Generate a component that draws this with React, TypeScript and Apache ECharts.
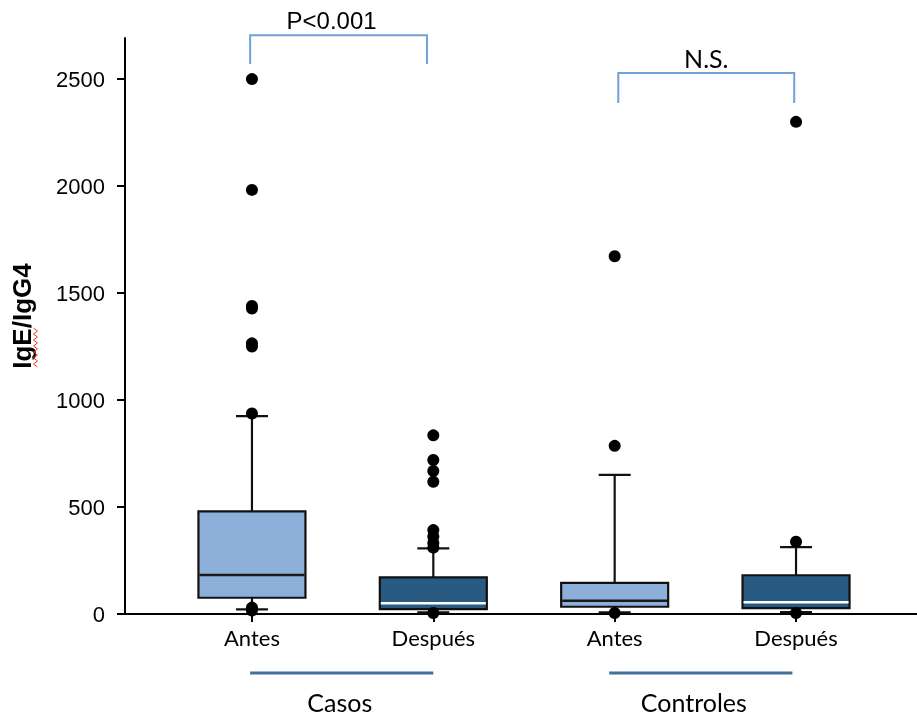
import React, { useEffect, useRef } from "react";
import * as echarts from "echarts";

// ---- data ----
const categories = ["Antes", "Después", "Antes", "Después"];
const groupNames = ["Casos", "Controles"];
const groupFrom = [0.99, 2.97];
const groupTo = [2.0, 3.98];

const boxMin = [22, 8, 8, 9];
const boxQ1 = [76, 23, 34, 27];
const boxMedian = [182, 50, 62, 55];
const boxQ3 = [480, 171, 145, 181];
const boxMax = [925, 307, 650, 313];

const outlierPoints: [number, number][] = [
  [1, 2500], [1, 1982], [1, 1440], [1, 1428], [1, 1265], [1, 1250], [1, 937], [1, 30], [1, 16],
  [2, 835], [2, 720], [2, 668], [2, 618], [2, 392], [2, 362], [2, 332], [2, 310], [2, 5],
  [3, 1672], [3, 786], [3, 5],
  [4, 2300], [4, 338], [4, 5],
];

const yTicks = [0, 500, 1000, 1500, 2000, 2500];

const bracketFrom = [0.99, 3.02];
const bracketTo = [1.965, 3.99];
const bracketTop = [2705, 2528];
const bracketLeg = [2570, 2388];
const bracketLabels = ["P<0.001", "N.S."];

// ---- styles ----
const boxFill = ["#8DB0DB", "#285A82", "#8DB0DB", "#285A82"];
const medianColor = ["#1a1a1a", "#ffffff", "#1a1a1a", "#ffffff"];
const bracketFont = ['24px "Liberation Sans", Arial, sans-serif', '25px Lato, sans-serif'];
const bracketDx = [-7, 0];
const groupDx = [-2, -7];

export default function App() {
  const ref = useRef<HTMLDivElement>(null);

  useEffect(() => {
    if (!ref.current) return;
    const chart = echarts.init(ref.current, undefined, { renderer: "svg" });

    const boxData = categories.map((_, i) => [i + 1, boxMin[i], boxQ1[i], boxMedian[i], boxQ3[i], boxMax[i]]);
    const bracketData = bracketFrom.map((f, i) => [f, bracketTo[i], bracketTop[i], bracketLeg[i]]);
    const groupData = groupFrom.map((f, i) => [f, groupTo[i]]);

    const squiggle: number[][] = [];
    for (let k = 0; k <= 13; k++) squiggle.push([k % 2 === 0 ? 33.5 : 37.5, 328 + k * 3]);

    const option: any = {
      animation: false,
      grid: { left: 125, right: 0, top: 38, bottom: 102, containLabel: false },
      xAxis: {
        type: "value",
        min: 0.3,
        max: 4.667,
        axisLine: { show: true, lineStyle: { color: "#000", width: 2 } },
        axisTick: { show: true, customValues: [1, 2, 3, 4], length: 8, lineStyle: { color: "#000", width: 2 } },
        axisLabel: {
          customValues: [1, 2, 3, 4],
          formatter: (v: number) => categories[Math.round(v) - 1] ?? "",
          color: "#000",
          fontFamily: "Lato, sans-serif",
          fontSize: 22,
          margin: 12,
        },
        splitLine: { show: false },
      },
      yAxis: {
        type: "value",
        min: 0,
        max: 2692,
        axisLine: { show: true, lineStyle: { color: "#000", width: 2 } },
        axisTick: { show: true, customValues: yTicks, length: 8, lineStyle: { color: "#000", width: 2 } },
        axisLabel: {
          customValues: yTicks,
          formatter: (v: number) => String(v),
          color: "#000",
          fontFamily: '"Liberation Sans", Arial, sans-serif',
          fontSize: 22,
          margin: 20,
        },
        splitLine: { show: false },
      },
      graphic: [
        {
          type: "text",
          x: 22,
          y: 316,
          rotation: Math.PI / 2,
          style: {
            text: "IgE/IgG4",
            fill: "#000",
            font: 'bold 26px "Liberation Sans", Arial, sans-serif',
            align: "center",
            verticalAlign: "middle",
          },
        },
        {
          type: "polyline",
          shape: { points: squiggle },
          style: { stroke: "#e8392f", lineWidth: 1, fill: "none" },
        },
      ],
      series: [
        {
          type: "custom",
          name: "boxes",
          coordinateSystem: "cartesian2d",
          data: boxData,
          z: 2,
          renderItem: (params: any, api: any) => {
            const i = params.dataIndex;
            const x = api.value(0);
            const pMin = api.coord([x, api.value(1)]);
            const pQ1 = api.coord([x, api.value(2)]);
            const pMed = api.coord([x, api.value(3)]);
            const pQ3 = api.coord([x, api.value(4)]);
            const pMax = api.coord([x, api.value(5)]);
            const cx = pMin[0];
            const half = 53.5;
            const cap = 16;
            const ls = { stroke: "#111", lineWidth: 2.2 };
            return {
              type: "group",
              children: [
                { type: "line", shape: { x1: cx, y1: pMax[1], x2: cx, y2: pQ3[1] }, style: ls },
                { type: "line", shape: { x1: cx, y1: pQ1[1], x2: cx, y2: pMin[1] }, style: ls },
                { type: "line", shape: { x1: cx - cap, y1: pMax[1], x2: cx + cap, y2: pMax[1] }, style: ls },
                { type: "line", shape: { x1: cx - cap, y1: pMin[1], x2: cx + cap, y2: pMin[1] }, style: ls },
                {
                  type: "rect",
                  shape: { x: cx - half, y: pQ3[1], width: half * 2, height: pQ1[1] - pQ3[1] },
                  style: { fill: boxFill[i], stroke: "#111", lineWidth: 2.2 },
                },
                {
                  type: "line",
                  shape: { x1: cx - half + 1, y1: pMed[1], x2: cx + half - 1, y2: pMed[1] },
                  style: { stroke: medianColor[i], lineWidth: 2.4 },
                },
              ],
            };
          },
        },
        {
          type: "scatter",
          name: "outliers",
          data: outlierPoints,
          symbol: "circle",
          symbolSize: 12,
          itemStyle: { color: "#000", opacity: 1 },
          z: 3,
        },
        {
          type: "custom",
          name: "brackets",
          coordinateSystem: "cartesian2d",
          data: bracketData,
          clip: false,
          z: 4,
          renderItem: (params: any, api: any) => {
            const i = params.dataIndex;
            const a = api.coord([api.value(0), api.value(2)]);
            const b = api.coord([api.value(1), api.value(2)]);
            const legY = api.coord([api.value(0), api.value(3)])[1];
            return {
              type: "group",
              children: [
                {
                  type: "polyline",
                  shape: { points: [[a[0], legY], [a[0], a[1]], [b[0], b[1]], [b[0], legY]] },
                  style: { stroke: "#6FA3D7", lineWidth: 2, fill: "none" },
                },
                {
                  type: "text",
                  x: (a[0] + b[0]) / 2 + bracketDx[i],
                  y: a[1] - 15,
                  style: {
                    text: bracketLabels[i],
                    fill: "#000",
                    font: bracketFont[i],
                    align: "center",
                    verticalAlign: "middle",
                  },
                },
              ],
            };
          },
        },
        {
          type: "custom",
          name: "groups",
          coordinateSystem: "cartesian2d",
          data: groupData,
          clip: false,
          z: 4,
          renderItem: (params: any, api: any) => {
            const i = params.dataIndex;
            const a = api.coord([api.value(0), 0]);
            const b = api.coord([api.value(1), 0]);
            return {
              type: "group",
              children: [
                {
                  type: "line",
                  shape: { x1: a[0], y1: a[1] + 59, x2: b[0], y2: a[1] + 59 },
                  style: { stroke: "#41719C", lineWidth: 3 },
                },
                {
                  type: "text",
                  x: (a[0] + b[0]) / 2 + groupDx[i],
                  y: a[1] + 88,
                  style: {
                    text: groupNames[i],
                    fill: "#000",
                    font: "25px Lato, sans-serif",
                    align: "center",
                    verticalAlign: "middle",
                  },
                },
              ],
            };
          },
        },
      ],
    };

    chart.setOption(option);
    return () => chart.dispose();
  }, []);

  return <div ref={ref} style={{ position: "fixed", left: 0, top: 0, width: 917, height: 716 }} />;
}
